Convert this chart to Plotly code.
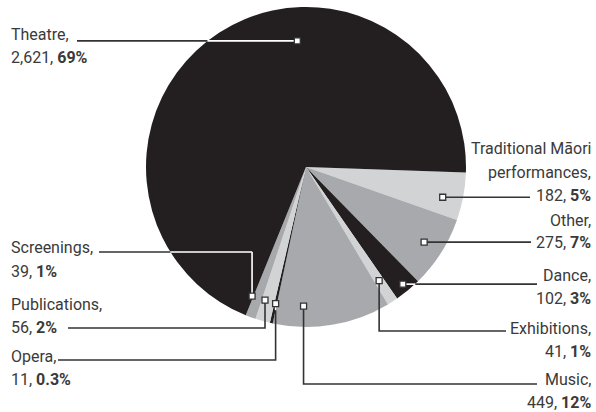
import math
import plotly.graph_objects as go

# Canvas size (px)
W, H = 596, 412

# ---- data -----------------------------------------------------------------
categories = [
    "Traditional Māori performances", "Other", "Dance", "Exhibitions",
    "Music", "Opera", "Publications", "Screenings", "Theatre",
]
counts = [182, 275, 102, 41, 449, 11, 56, 39, 2621]
pct_labels = ["5%", "7%", "3%", "1%", "12%", "0.3%", "2%", "1%", "69%"]
name_lines = [
    ["Traditional Māori", "performances,"], ["Other,"], ["Dance,"],
    ["Exhibitions,"], ["Music,"], ["Opera,"], ["Publications,"],
    ["Screenings,"], ["Theatre,"],
]

# ---- styling ----------------------------------------------------------------
BLACK, LIGHT, MID = "#231f20", "#d1d3d4", "#a7a9ac"
slice_colors = [LIGHT, MID, BLACK, LIGHT, MID, BLACK, LIGHT, MID, BLACK]
TEXT_COLOR = "#3a3a3a"
LINE_COLOR = "#333333"
FONT = "Roboto"
FONT_SIZE = 16
LINE_GAP = 23

# pie geometry in pixels
CX, CY, R = 306, 167, 160
ROTATION = 92

# label placement: side, y of first text line, leader y (None = straight from
# the anchor), x where the leader meets the text, anchor angle nudge (deg)
# and anchor radius as a fraction of R
label_layout = {
    "Theatre": dict(side="L", top=35, lead_y=None, lead_x=77, nudge=29.0, rf=0.79),
    "Screenings": dict(side="L", top=248, lead_y=252, lead_x=99, nudge=2.4, rf=0.875),
    "Publications": dict(side="L", top=304, lead_y=328, lead_x=68, nudge=1.4, rf=0.87),
    "Opera": dict(side="L", top=356, lead_y=360, lead_x=58, nudge=0.0, rf=0.875),
    "Traditional Māori performances": dict(side="R", top=149, lead_y=None, lead_x=530, nudge=1.8, rf=0.875),
    "Other": dict(side="R", top=220, lead_y=None, lead_x=531, nudge=0.0, rf=0.875),
    "Dance": dict(side="R", top=275, lead_y=None, lead_x=537, nudge=0.0, rf=0.95),
    "Exhibitions": dict(side="R", top=328, lead_y=331, lead_x=506, nudge=0.0, rf=0.845),
    "Music": dict(side="R", top=379, lead_y=384, lead_x=537, nudge=10.4, rf=0.87),
}
LEFT_X, RIGHT_X = 9, 593

total = sum(counts)
bounds = []
acc = 0.0
for c in counts:
    start = ROTATION + 360.0 * acc / total
    acc += c
    end = ROTATION + 360.0 * acc / total
    bounds.append((start, end))


def px(x):
    return x / W


def py(y):
    return 1 - y / H


def polar(angle_deg, r):
    a = math.radians(angle_deg)
    return CX + r * math.sin(a), CY - r * math.cos(a)


def slice_at(x, y):
    dx, dy = x - CX, y - CY
    if math.hypot(dx, dy) > R:
        return None
    ang = math.degrees(math.atan2(dx, -dy))
    rel = (ang - ROTATION) % 360.0
    for i, (s, e) in enumerate(bounds):
        if (s - ROTATION) <= rel < (e - ROTATION):
            return i
    return len(counts) - 1


fig = go.Figure()
fig.add_trace(go.Pie(
    labels=categories,
    values=counts,
    sort=False,
    direction="clockwise",
    rotation=ROTATION,
    marker=dict(colors=slice_colors, line=dict(width=0)),
    textinfo="none",
    hoverinfo="label+value",
    showlegend=False,
    domain=dict(x=[px(CX - R), px(CX + R)], y=[py(CY + R), py(CY - R)]),
))

shapes = []
annotations = []

for i, cat in enumerate(categories):
    lay = label_layout[cat]
    s, e = bounds[i]
    ax, ay = polar((s + e) / 2 + lay["nudge"], lay["rf"] * R)
    lead_y = ay if lay["lead_y"] is None else lay["lead_y"]

    # leader route: anchor -> vertical to lead_y -> horizontal to text
    pts = [(ax, ay), (ax, lead_y), (lay["lead_x"], lead_y)]
    path = "M {} {} L {} {} L {} {}".format(
        px(pts[0][0]), py(pts[0][1]), px(pts[1][0]), py(pts[1][1]),
        px(pts[2][0]), py(pts[2][1]))
    shapes.append(dict(type="path", xref="paper", yref="paper", path=path,
                       line=dict(color=LINE_COLOR, width=1.6), layer="above"))

    # leader drawn in white wherever it runs over a black slice
    for (x0, y0), (x1, y1) in zip(pts[:-1], pts[1:]):
        n = int(max(abs(x1 - x0), abs(y1 - y0)) * 2) + 1
        run = None
        for k in range(n + 1):
            t = k / n
            x, y = x0 + (x1 - x0) * t, y0 + (y1 - y0) * t
            j = slice_at(x, y)
            dark = j is not None and slice_colors[j] == BLACK
            if dark and run is None:
                run = (x, y)
            if (not dark or k == n) and run is not None:
                shapes.append(dict(type="line", xref="paper", yref="paper",
                                   x0=px(run[0]), y0=py(run[1]), x1=px(x), y1=py(y),
                                   line=dict(color="white", width=1.6), layer="above"))
                run = None

    # small square marker at the anchor
    hs = 3
    shapes.append(dict(type="rect", xref="paper", yref="paper",
                       x0=px(ax - hs), x1=px(ax + hs), y0=py(ay + hs), y1=py(ay - hs),
                       line=dict(color=LINE_COLOR, width=1.3), fillcolor="white",
                       layer="above"))

    # label text, one annotation per line
    lines = list(name_lines[i]) + ["{:,}, <b>{}</b>".format(counts[i], pct_labels[i])]
    for k, txt in enumerate(lines):
        y = lay["top"] + k * LINE_GAP
        annotations.append(dict(
            x=px(LEFT_X if lay["side"] == "L" else RIGHT_X), y=py(y),
            xref="paper", yref="paper", text=txt, showarrow=False,
            xanchor="left" if lay["side"] == "L" else "right", yanchor="middle",
            font=dict(family=FONT, size=FONT_SIZE, color=TEXT_COLOR),
        ))

fig.update_layout(
    width=W, height=H, autosize=False,
    margin=dict(l=0, r=0, t=0, b=0),
    paper_bgcolor="white", plot_bgcolor="white",
    shapes=shapes, annotations=annotations, showlegend=False,
)

fig.write_html("out.html")
